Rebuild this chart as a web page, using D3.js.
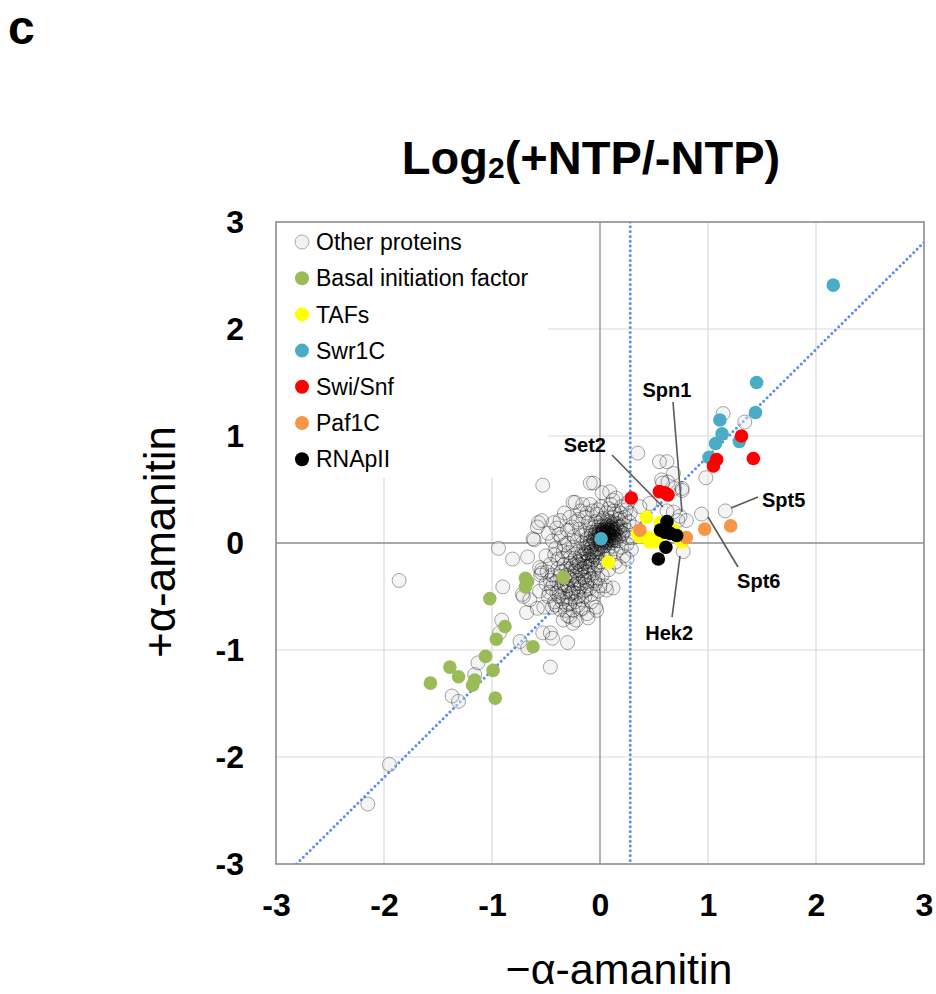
<!DOCTYPE html>
<html>
<head>
<meta charset="utf-8">
<script src="https://cdn.jsdelivr.net/npm/d3@7"></script>
<style>
  body { margin: 0; background: #fff; }
  text { font-family: "Liberation Sans", Arial, sans-serif; }
</style>
</head>
<body>
<div id="chart"></div>
<script>
// ---- data (log2 +NTP/-NTP), x = -amanitin, y = +amanitin ----
var ticks = [-3, -2, -1, 0, 1, 2, 3];
var tickLabels = ["-3", "-2", "-1", "0", "1", "2", "3"];

var categories = ["Other proteins", "Basal initiation factor", "TAFs", "Swr1C", "Swi/Snf", "Paf1C", "RNApII"];
var colors = ["#f2f2f2", "#9bbb59", "#ffff00", "#4bacc6", "#ff0000", "#f79646", "#000000"];

var otherPts = [
  // scattered
  [-2.15,-2.44],[-1.95,-2.07],[-1.37,-1.43],[-1.31,-1.48],[-1.86,-0.35],[-0.94,-0.05],[-0.81,-0.15],[-0.67,-0.13],
  [-0.61,0.03],[-0.57,0.19],[-0.9,-0.41],[-0.91,-0.72],[-0.93,-0.84],[-0.74,-0.92],[-0.67,-0.98],[-0.46,-1.16],
  [-0.46,-0.84],[-0.44,-0.89],[-0.3,-0.93],[-1.13,-1.12],[-1.16,-1.23],[-0.72,-0.48],[-0.65,-0.53],[-0.58,-0.61],
  [-0.68,-0.65],[-0.54,-0.28],[-0.49,-0.27],[-0.56,-0.23],[-0.44,-0.6],[-0.28,-0.69],[-0.11,-0.7],[-0.03,-0.63],
  [-0.16,-0.61],[-0.25,-0.75],[-0.34,-0.72],[-0.53,-0.84],[-0.62,0.04],[-0.58,0.15],[-0.54,0.21],[-0.53,0.54],
  [-0.09,0.56],[-0.06,0.56],[0.02,0.47],[-0.23,0.38],[-0.16,0.36],[0.12,0.4],[-0.43,0.19],[-0.37,0.21],
  [-0.48,0.09],[0.35,0.84],[-0.54,-0.25],[-0.46,-0.35],[-0.71,-0.5],[0.55,0.76],[0.62,0.76],[0.68,0.65],
  [0.63,0.57],[0.58,0.56],[0.69,0.51],[0.46,0.37],[0.37,0.34],[0.68,0.29],[0.72,0.21],[0.77,-0.08],
  [0.94,0.27],[0.98,0.61],[0.09,0.48],[0.12,-0.42],[0.06,-0.44],[-0.25,0.38],[0.57,0.59],[0.76,0.51],
  [1.14,1.21],[1.34,1.13],[1.16,0.3],[0.74,0.25],[0.8,0.21],[0.62,0.3],[0.76,0.49],
  // core
  [0.05,0.07],[0.02,0.05],[0.08,0.10],[0.03,0.12],[0.10,0.04],[-0.02,0.02],[0.06,0.00],[0.12,0.09],[0.00,0.09],[0.07,0.14],
  [0.04,0.03],[0.09,0.07],[-0.03,0.06],[0.11,0.13],[0.01,-0.01],[0.06,0.11],[0.13,0.05],[0.03,0.08],[-0.05,0.03],[0.08,0.02],
  [0.02,0.15],[0.10,0.11],[-0.01,0.10],[0.05,0.04],[0.14,0.10],[0.07,0.06],[-0.04,-0.01],[0.04,0.13],[0.12,0.02],[0.00,0.04],
  [0.09,0.15],[0.06,0.09],[-0.02,0.08],[0.11,0.07],[0.03,0.01],[0.08,0.12],[0.15,0.08],[0.01,0.06],[-0.06,0.05],[0.05,0.10],
  [0.10,0.00],[0.04,0.07],[0.07,0.17],[-0.03,0.12],[0.13,0.12],[0.02,0.03],[0.06,0.05],[0.09,0.09],[-0.01,0.00],[0.12,0.14],
  [0.03,0.10],[0.08,0.04],[0.00,0.12],[0.05,0.01],[0.11,0.10],[-0.04,0.08],[0.07,0.08],[0.14,0.03],[0.02,0.09],[0.06,0.13],
  [-0.07,-0.02],[-0.05,-0.06],[-0.09,0.01],[-0.03,-0.05],[0.01,-0.04],[-0.08,-0.08],[-0.11,-0.03],[-0.02,-0.09],[0.04,-0.03],[-0.06,-0.11],
  [0.16,0.13],[0.17,0.06],[0.15,0.16],[0.18,0.11],[0.10,0.18],[0.04,0.18],[-0.01,0.16],[0.13,0.19],[0.19,0.15],[0.07,0.21],
  [0.04,0.06],[0.07,0.03],[0.01,0.08],[0.09,0.12],[0.05,0.15],[0.12,0.06],[-0.02,0.04],[0.06,0.02],[0.10,0.08],[0.03,0.11],
  [0.08,0.07],[0.00,0.02],[0.11,0.03],[0.04,0.09],[0.07,0.12],[-0.04,0.10],[0.13,0.08],[0.02,0.00],[0.09,0.05],[0.06,0.16],
  [-0.01,0.07],[0.14,0.13],[0.05,-0.02],[0.10,0.14],[0.02,0.12],[-0.06,0.01],[0.08,0.09],[0.12,0.11],[0.03,0.05],[0.07,0.10],
  [-0.08,-0.04],[-0.04,-0.08],[-0.10,-0.06],[-0.13,-0.09],[-0.07,-0.12],[-0.02,-0.06],[-0.11,-0.12],[-0.15,-0.11],[-0.09,-0.09],[-0.05,-0.13],
  [-0.16,-0.15],[-0.12,-0.17],[-0.19,-0.20],[-0.14,-0.22],[-0.21,-0.18],[-0.08,-0.18],[-0.17,-0.24],[-0.23,-0.26],[-0.11,-0.22],[-0.25,-0.21],
  [0.01,0.20],[-0.05,0.15],[0.09,0.20],[0.16,0.18],[0.15,0.02],[0.20,0.07],[-0.08,0.07],[-0.12,0.00],[0.17,0.15],[0.11,0.16],
  // ring
  [-0.12,-0.10],[-0.15,-0.05],[-0.10,-0.15],[-0.18,-0.12],[-0.14,-0.18],[-0.07,-0.16],[-0.20,-0.08],[-0.16,0.00],[-0.12,0.04],[-0.19,-0.17],
  [-0.23,-0.14],[-0.09,-0.21],[-0.03,-0.14],[0.02,-0.10],[0.07,-0.06],[0.12,-0.03],[0.18,0.02],[0.21,0.09],[0.22,0.17],[0.17,0.22],
  [0.11,0.24],[0.03,0.23],[-0.04,0.20],[-0.09,0.14],[-0.13,0.09],[-0.08,0.10],[-0.21,0.02],[-0.25,-0.04],[-0.17,0.07],[0.24,0.12],
  [0.20,-0.04],[0.15,-0.08],[0.09,-0.12],[0.00,-0.18],[-0.05,-0.24],[-0.13,-0.26],[-0.22,-0.22],[-0.27,-0.19],[-0.29,-0.09],[-0.24,0.06],
  [-0.19,0.13],[-0.11,0.19],[-0.03,0.27],[0.06,0.28],[0.14,0.27],[0.23,0.24],[0.26,0.05],[0.25,-0.01],[0.05,-0.15],[-0.26,-0.28],
  [-0.17,-0.30],[-0.31,-0.24],[-0.10,-0.30],[-0.02,-0.21],[0.13,0.30],[-0.14,0.24],[-0.30,0.00],[0.27,0.20],[0.19,0.28],[-0.07,0.30],
  [-0.28,-0.33],[-0.20,-0.35],[-0.35,-0.37],[-0.24,-0.42],[-0.32,-0.46],[-0.18,-0.41],[-0.27,-0.52],[-0.38,-0.50],[-0.14,-0.35],[-0.06,-0.28],
  [-0.21,-0.28],[-0.15,-0.32],[-0.26,-0.35],[-0.11,-0.27],[-0.31,-0.30],[-0.19,-0.38],[-0.08,-0.33],[-0.24,-0.31],[-0.29,-0.43],[-0.13,-0.44],
  [-0.36,-0.41],[-0.22,-0.47],[-0.33,-0.39],[-0.17,-0.53],[-0.28,-0.57],[-0.40,-0.47],[-0.09,-0.42],[-0.04,-0.38],[-0.23,-0.55],[-0.35,-0.55],
  [-0.18,-0.26],[-0.27,-0.24],[-0.33,-0.20],[-0.37,-0.31],[-0.12,-0.36],[-0.02,-0.33],[-0.20,-0.44],[-0.30,-0.50],[-0.14,-0.50],[-0.25,-0.46],
  [-0.39,-0.24],[-0.43,-0.38],[-0.47,-0.46],[-0.41,-0.58],[-0.32,-0.63],[-0.20,-0.58],[-0.08,-0.48],[0.00,-0.40],[-0.35,-0.14],[-0.42,-0.11],
  [-0.28,-0.14],[-0.33,-0.02],[-0.38,0.08],[-0.26,0.15],[-0.20,0.22],[-0.12,0.28],[-0.02,0.31],[0.08,0.32],[0.19,0.23],[0.24,0.31],
  // halo
  [-0.33,-0.33],[-0.36,-0.27],[-0.30,-0.40],[-0.40,-0.36],[-0.38,-0.45],[-0.27,-0.47],[-0.44,-0.30],[-0.34,-0.52],[-0.45,-0.42],[-0.22,-0.38],
  [-0.42,-0.55],[-0.31,-0.58],[-0.20,-0.50],[-0.48,-0.50],[-0.37,-0.62],[-0.25,-0.63],[-0.15,-0.45],[-0.12,-0.40],[-0.05,-0.35],[0.02,-0.30],
  [-0.50,-0.38],[-0.46,-0.20],[-0.39,-0.15],[-0.34,-0.08],[-0.41,-0.05],[-0.36,0.05],[-0.30,0.12],[-0.22,0.20],[-0.28,0.24],[-0.18,0.30],
  [-0.09,0.36],[0.01,0.34],[0.10,0.36],[0.20,0.34],[0.28,0.28],[0.31,0.15],[0.30,0.05],[0.29,-0.06],[0.22,-0.12],[0.14,-0.18],
  [0.08,-0.25],[-0.02,-0.45],[-0.08,-0.55],[-0.18,-0.62],[-0.30,-0.68],[-0.12,-0.66],[-0.04,-0.60],[0.05,-0.40],[0.18,-0.22],[0.25,-0.15],
  [-0.52,-0.60],[-0.56,-0.45],[-0.55,-0.30],[-0.50,-0.12],[-0.44,0.02],[-0.40,0.14],[-0.33,0.28],[0.15,0.42],[0.26,0.38],[-0.22,-0.72]
];

var basalPts = [
  [-1.57,-1.31],[-1.39,-1.16],[-1.31,-1.25],[-1.18,-1.33],[-1.16,-1.28],[-1.06,-1.06],[-0.99,-1.19],[-0.97,-1.45],
  [-0.96,-0.9],[-0.88,-0.78],[-1.02,-0.52],[-0.69,-0.33],[-0.67,-0.36],[-0.69,-0.41],[-0.62,-0.97],[-0.34,-0.32]
];
var tafPts = [
  [0.08,-0.18],[0.43,0.24],[0.37,0.06],[0.46,0.01],[0.53,0.03],[0.56,0.19],[0.72,0.07],[0.76,0.01],
  [0.68,0.12],[0.35,0.09],[0.45,0.05],[0.51,0.01],[0.74,0.03]
];
var swr1Pts = [
  [2.16,2.41],[1.45,1.5],[1.44,1.22],[1.11,1.15],[1.13,1.02],[1.07,0.93],[1.01,0.8],[1.29,0.95],[0.01,0.04]
];
var swiSnfPts = [
  [1.31,1.0],[1.42,0.79],[1.08,0.78],[1.05,0.72],[0.55,0.48],[0.6,0.47],[0.63,0.45],[0.29,0.42]
];
var paf1Pts = [
  [1.21,0.16],[0.97,0.13],[0.8,0.05],[0.37,0.12]
];
var polIIPts = [
  [0.62,0.2],[0.56,0.12],[0.65,0.09],[0.71,0.07],[0.61,-0.04],[0.54,-0.15],[0.6,0.1]
];

// callouts: label text, point end, label end (data units)
var callouts = [
  {name: "Spn1", from: [0.759, 0.29], to: [0.676, 1.318], text: [0.62, 1.36], anchor: "middle"},
  {name: "Set2", from: [0.583, 0.336], to: [0.111, 0.822], text: [-0.14, 0.85], anchor: "middle"},
  {name: "Spt5", from: [1.213, 0.327], to: [1.463, 0.43], text: [1.5, 0.336], anchor: "start"},
  {name: "Spt6", from: [1.0, 0.243], to: [1.278, -0.224], text: [1.47, -0.42], anchor: "middle"},
  {name: "Hek2", from: [0.741, -0.121], to: [0.667, -0.692], text: [0.64, -0.907], anchor: "middle"}
];

var vLineX = 0.28;          // vertical reference line
var diagOffset = -0.19;     // y = x + offset

var groups = [otherPts, basalPts, tafPts, swr1Pts, swiSnfPts, paf1Pts, polIIPts];

// ---- layout ----
var margin = {top: 222, right: 12, bottom: 130, left: 276},
    width = 648,
    height = 642;

var root = d3.select("#chart")
    .append("svg")
        .attr("width", 936)
        .attr("height", 994);

var svg = root.append("g")
        .attr("transform", "translate(" + margin.left + "," + margin.top + ")");

var x = d3.scaleLinear().domain([-3, 3]).range([0, width]);
var y = d3.scaleLinear().domain([-3, 3]).range([height, 0]);

root.append("text")
    .attr("x", 8).attr("y", 44)
    .style("font-size", "48px").style("font-weight", "bold")
    .text("c");

var title = root.append("text")
    .attr("x", 591).attr("y", 174)
    .attr("text-anchor", "middle")
    .style("font-size", "47px").style("font-weight", "bold");
title.append("tspan").text("Log");
title.append("tspan").attr("dy", 4).style("font-size", "30px").text("2");
title.append("tspan").attr("dy", -4).text("(+NTP/-NTP)");

// grid
var inner = ticks.filter(function(d) { return d !== 0 && Math.abs(d) !== 3; });
svg.selectAll(".gx").data(inner)
  .enter().append("line")
    .attr("x1", function(d) { return x(d); }).attr("x2", function(d) { return x(d); })
    .attr("y1", 0).attr("y2", height)
    .attr("stroke", "#d9d9d9").attr("stroke-width", 1.2);
svg.selectAll(".gy").data(inner)
  .enter().append("line")
    .attr("y1", function(d) { return y(d); }).attr("y2", function(d) { return y(d); })
    .attr("x1", 0).attr("x2", width)
    .attr("stroke", "#d9d9d9").attr("stroke-width", 1.2);

// zero lines
svg.append("line").attr("x1", x(0)).attr("x2", x(0)).attr("y1", 0).attr("y2", height)
    .attr("stroke", "#8c8c8c").attr("stroke-width", 1.3);
svg.append("line").attr("y1", y(0)).attr("y2", y(0)).attr("x1", 0).attr("x2", width)
    .attr("stroke", "#8c8c8c").attr("stroke-width", 1.3);

// frame
svg.append("rect").attr("width", width).attr("height", height)
    .attr("fill", "none").attr("stroke", "#8c8c8c").attr("stroke-width", 1.6);

// legend background (covers grid)
var legend = svg.append("g").attr("transform", "translate(1,1)");
legend.append("rect").attr("width", 271).attr("height", 255).attr("fill", "#fff");

// reference lines
svg.append("defs").append("clipPath").attr("id", "clip")
  .append("rect").attr("width", width).attr("height", height);

var refs = svg.append("g").attr("clip-path", "url(#clip)");
refs.append("line")
    .attr("x1", x(vLineX)).attr("x2", x(vLineX)).attr("y1", 0).attr("y2", height)
    .attr("stroke", "#5b8def").attr("stroke-width", 3)
    .attr("stroke-linecap", "round").attr("stroke-dasharray", "0,4.8");
refs.append("line")
    .attr("x1", x(-3 - diagOffset)).attr("y1", y(-3))
    .attr("x2", x(3)).attr("y2", y(3 + diagOffset))
    .attr("stroke", "#5b8def").attr("stroke-width", 3)
    .attr("stroke-linecap", "round").attr("stroke-dasharray", "0,4.8");

// points: other proteins -> translucent fills, then outlines on top
var pts = svg.append("g");
pts.selectAll(".otherFill").data(otherPts)
  .enter().append("circle")
    .attr("class", "otherFill")
    .attr("cx", function(d) { return x(d[0]); })
    .attr("cy", function(d) { return y(d[1]); })
    .attr("r", 7)
    .attr("fill", "#e6e6e6").attr("fill-opacity", 0.45);
pts.selectAll(".otherLine").data(otherPts)
  .enter().append("circle")
    .attr("class", "otherLine")
    .attr("cx", function(d) { return x(d[0]); })
    .attr("cy", function(d) { return y(d[1]); })
    .attr("r", 7)
    .attr("fill", "none")
    .attr("stroke", "#000").attr("stroke-opacity", 0.34).attr("stroke-width", 1);

groups.forEach(function(g, i) {
    if (i === 0) return;
    pts.selectAll(".g" + i).data(g)
      .enter().append("circle")
        .attr("class", "g" + i)
        .attr("cx", function(d) { return x(d[0]); })
        .attr("cy", function(d) { return y(d[1]); })
        .attr("r", 6.8)
        .attr("fill", colors[i]);
});

// callouts
callouts.forEach(function(c) {
    svg.append("line")
        .attr("x1", x(c.from[0])).attr("y1", y(c.from[1]))
        .attr("x2", x(c.to[0])).attr("y2", y(c.to[1]))
        .attr("stroke", "#595959").attr("stroke-width", 1.6);
    svg.append("text")
        .attr("x", x(c.text[0])).attr("y", y(c.text[1]))
        .attr("text-anchor", c.anchor)
        .style("font-size", "20px").style("font-weight", "bold")
        .text(c.name);
});

// legend items
var items = legend.selectAll(".item").data(categories)
  .enter().append("g")
    .attr("transform", function(d, i) { return "translate(25," + (19 + i * 36.2) + ")"; });
items.append("circle")
    .attr("r", 7)
    .attr("fill", function(d, i) { return colors[i]; })
    .attr("stroke", function(d, i) { return i === 0 ? "#aaa" : "none"; });
items.append("text")
    .attr("x", 14).attr("dy", "0.36em")
    .style("font-size", "23px")
    .text(function(d) { return d; });

// axes
var xAxis = svg.append("g")
    .attr("transform", "translate(0," + height + ")")
    .call(d3.axisBottom(x).tickValues(ticks).tickSize(0).tickPadding(29)
        .tickFormat(function(d, i) { return tickLabels[i]; }));
var yAxis = svg.append("g")
    .call(d3.axisLeft(y).tickValues(ticks).tickSize(0).tickPadding(32)
        .tickFormat(function(d, i) { return tickLabels[i]; }));
[xAxis, yAxis].forEach(function(a) {
    a.select(".domain").remove();
    a.selectAll("text")
        .style("font-family", "'Liberation Sans', Arial, sans-serif")
        .style("font-size", "32px").style("font-weight", "bold").attr("fill", "#000");
});

// axis titles
root.append("text")
    .attr("x", 619).attr("y", 984)
    .attr("text-anchor", "middle")
    .style("font-size", "43px")
    .text("\u2212\u03b1-amanitin");
root.append("text")
    .attr("transform", "translate(175,542) rotate(-90)")
    .attr("text-anchor", "middle")
    .style("font-size", "44px")
    .text("+\u03b1-amanitin");
</script>
</body>
</html>
